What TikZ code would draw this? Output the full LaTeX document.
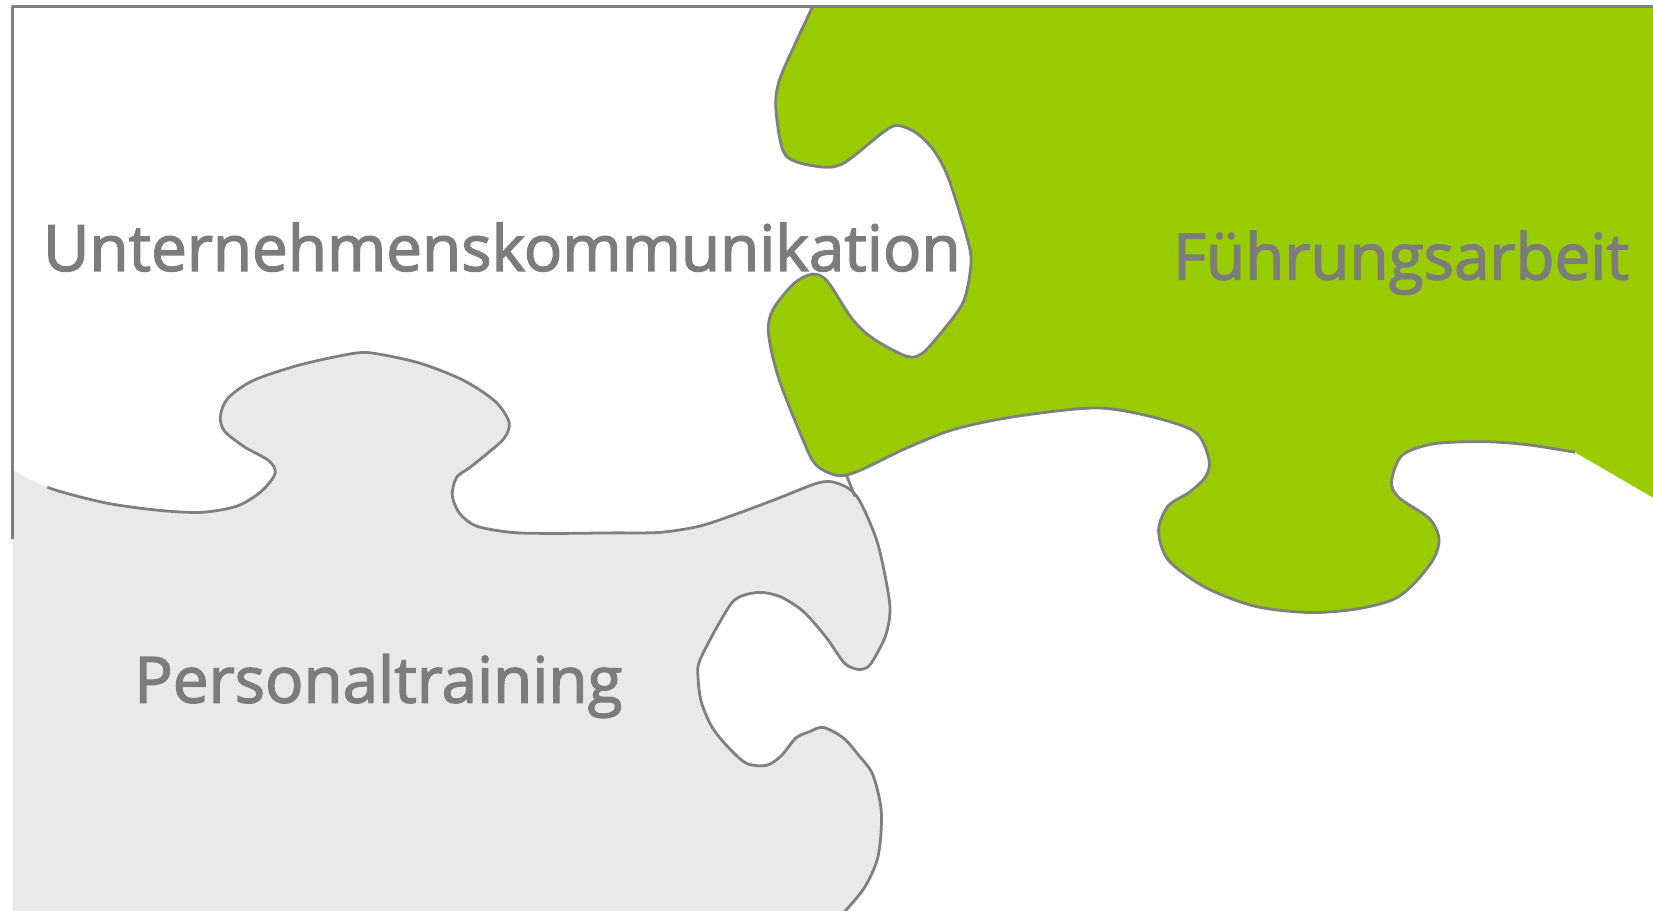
\documentclass[tikz,border=0pt]{standalone}
\usepackage{xcolor}
\usepackage{fontspec}
\newfontfamily\piecefont{Open Sans}[FakeBold=2.2]
\definecolor{linegray}{HTML}{7F7F7F}
\definecolor{textgray}{HTML}{7C7C7C}
\definecolor{greenfill}{HTML}{99CC00}
\definecolor{grayfill}{HTML}{E9E9E9}
\tikzset{
  edge/.style={draw=linegray, line width=0.75pt, line join=round},
  piecetext/.style={text=textgray, inner sep=0pt, anchor=base,
    font=\piecefont\fontsize{17.2pt}{20pt}\selectfont}
}
\def\graycoast{plot[smooth,tension=0.5] coordinates{
  (12,446) (47,463) (100,477) (150,484) (191,486) (225,480) (248,466) (261,449)
  (255,437) (232,424) (213,409) (209,395) (216,378) (240,361) (285,346) (337,335)
  (360,336) (400,345) (440,361) (470,381) (483,401) (478,416) (460,432) (445,444)
  (433,453) (429,470) (436,487) (452,499) (485,505) (523,506) (580,505.5) (626,505)
  (664,499) (700,487) (740,472) (773,459) (789,457) (806,464) (817,478) (833,517)
  (844,573) (841,600) (833,618) (824,632) (814,635) (801,629) (784,605) (762,580)
  (740,566) (719,562) (697,569) (680,595) (664,626) (662,640) (665,665) (675,689)
  (690,708) (708,724) (727,726) (741,717) (755,700) (768,694) (781,690) (800,700)
  (815,717) (828,735) (836,770) (833,812) (820,842) (800,866)}}
\def\greencoast{plot[smooth,tension=0.5] coordinates{
  (1494,429) (1450,422) (1408,419) (1360,421) (1330,432) (1320,457) (1327,472)
  (1356,492) (1365,511) (1360,530) (1341,554) (1321,569) (1285,578) (1241,581)
  (1190,575) (1143,557) (1108,531) (1099,503) (1108,480) (1128,467) (1143,453)
  (1147,437) (1134,410) (1091,395) (1039,387) (964,395) (906,407) (860,425)
  (814,447) (794,451) (774,441) (762,418) (739,360) (729,317) (733,294) (753,269)
  (771,260) (785,267) (808,302) (828,321) (860,338) (875,335) (894,314) (914,286)
  (921,251) (918,228) (900,170) (886,143) (869,126) (851,119) (837,126) (800,155)
  (776,158) (745,147) (736,104) (739,77) (755,40) (771,6)}}
\begin{document}
\begin{tikzpicture}[x=0.01cm, y=-0.01cm]
\useasboundingbox (0,0) rectangle (1568,864);
\clip (0,0) rectangle (1568,864);
% Personaltraining
\fill[grayfill] \graycoast -- (800,870) -- (12,870) -- cycle;
\begin{scope}
\clip (45,0) rectangle (1568,870);
\draw[edge] \graycoast;
\end{scope}
% Fuehrungsarbeit
\fill[greenfill] \greencoast -- (1568,6) -- (1568,472) -- cycle;
\draw[edge] \greencoast;
% Unternehmenskommunikation
\coordinate (ecke1) at (12,511);
\coordinate (ecke2) at (12,6);
\coordinate (ecke3) at (1568,6);
\coordinate (spalt1) at (803,451);
\coordinate (spalt2) at (811,471);
\draw[edge] (ecke1) -- (ecke2) -- (ecke3);
\draw[edge] (spalt1) -- (spalt2);
%
\node[piecetext] (unternehmen) at (476,257) {Unternehmenskommunikation};
\node[piecetext] (fuehrung) at (1329,265) {Führungsarbeit};
\node[piecetext] (personal) at (359,666.5) {Personaltraining};
\end{tikzpicture}
\end{document}
